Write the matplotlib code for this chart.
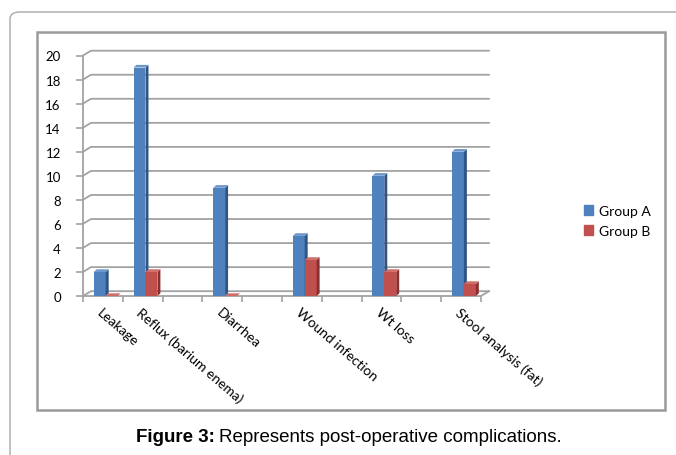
import numpy as np
import matplotlib.pyplot as plt
from matplotlib.patches import Polygon, Patch, FancyBboxPatch, Rectangle

# complications per group (blank slots keep the original spacing)
categories = ["Leakage", "Reflux (barium enema)", "", "Diarrhea", "",
              "Wound infection", "", "Wt loss", "", "Stool analysis (fat)"]
group_a = [2, 19, np.nan, 9, np.nan, 5, np.nan, 10, np.nan, 12]
group_b = [0, 2, np.nan, 0, np.nan, 3, np.nan, 2, np.nan, 1]
series = ["Group A", "Group B"]
y_ticks = list(range(0, 21, 2))

W, H = 676, 456
fig = plt.figure(figsize=(W / 100, H / 100), dpi=100)


def fx(x):
    return x / W


def fy(y):
    return 1 - y / H


grey = "#a2a2a2"
font = ["Lato", "DejaVu Sans"]

# outer rounded frame and inner chart frame
fig.add_artist(FancyBboxPatch((fx(10), fy(470)), fx(720), 457 / H,
                              boxstyle="round,pad=0,rounding_size=0.015",
                              transform=fig.transFigure, fc="none",
                              ec="#a8a8a8", lw=1.0))
fig.add_artist(Rectangle((fx(37), fy(411)), (665 - 37) / W, (411 - 33) / H,
                         transform=fig.transFigure, fc="none", ec="#9a9a9a", lw=1.8))

ax = fig.add_axes([fx(83), fy(297), (481 - 83) / W, (297 - 56.5) / H])
ax.set_xlim(0, len(categories))
ax.set_ylim(0, 20)

# depth of the 3D walls (data units)
ddx, ddy = 0.2, 0.4
n = len(categories)
for y in y_ticks:
    ax.plot([0, ddx, n + ddx], [y, y + ddy, y + ddy], color=grey, lw=1.3,
            clip_on=False, zorder=1)
ax.plot([n, n + ddx], [0, ddy], color=grey, lw=1.3, clip_on=False, zorder=1)


def bar3d(x, h, w, face, side, top, dx=0.075, dy=0.22):
    ax.bar(x, h, width=w, align="edge", color=face, linewidth=0, zorder=3)
    ax.add_patch(Polygon([(x + w, 0), (x + w + dx, dy), (x + w + dx, h + dy), (x + w, h)],
                         closed=True, fc=side, ec="none", zorder=3))
    ax.add_patch(Polygon([(x, h), (x + dx, h + dy), (x + w + dx, h + dy), (x + w, h)],
                         closed=True, fc=top, ec="none", zorder=3))


bw = 0.3
for i in range(n):
    if not np.isnan(group_a[i]):
        bar3d(i + 0.27, group_a[i], bw, "#4f81bd", "#2f5587", "#6a96cc")
    if not np.isnan(group_b[i]):
        bar3d(i + 0.27 + bw, group_b[i], bw, "#c0504d", "#8a2f2d", "#d06a67")

for s in ["top", "right"]:
    ax.spines[s].set_visible(False)
for s in ["left", "bottom"]:
    ax.spines[s].set_color(grey)
    ax.spines[s].set_linewidth(1.3)

ax.set_yticks(y_ticks)
ax.set_yticklabels([str(v) for v in y_ticks], family=font, fontsize=9.5)
ax.tick_params(axis="y", length=5, width=1.2, color=grey, pad=11)

ax.set_xticks(range(n + 1))
ax.set_xticklabels([])
ax.set_xticks(np.arange(n) + 0.5, minor=True)
ax.set_xticklabels(categories, minor=True, rotation=-41, ha="left", va="top",
                   rotation_mode="anchor", family=font, fontsize=10)
ax.tick_params(axis="x", which="major", length=4, width=1.2, color=grey)
ax.tick_params(axis="x", which="minor", length=0, pad=7)

handles = [Patch(color="#4f81bd"), Patch(color="#c0504d")]
fig.legend(handles, series, loc="center left",
           bbox_to_anchor=(fx(571), fy(222)), frameon=False,
           handlelength=0.7, handleheight=0.7, handletextpad=0.4,
           labelspacing=0.6, prop={"family": font, "size": 10})

# caption: bold lead-in followed by regular text
cap = fig.text(fx(136), fy(438), "Figure 3:", ha="left", va="center",
               fontsize=13.5, fontweight="bold", family="Liberation Sans")
fig.canvas.draw()
bb = cap.get_window_extent()
fig.text(bb.x1 + 4, fy(438) * H, "Represents post-operative complications.",
         ha="left", va="center", fontsize=13.5, family="Liberation Sans",
         transform=None)

fig.savefig("out.png", dpi=100)
